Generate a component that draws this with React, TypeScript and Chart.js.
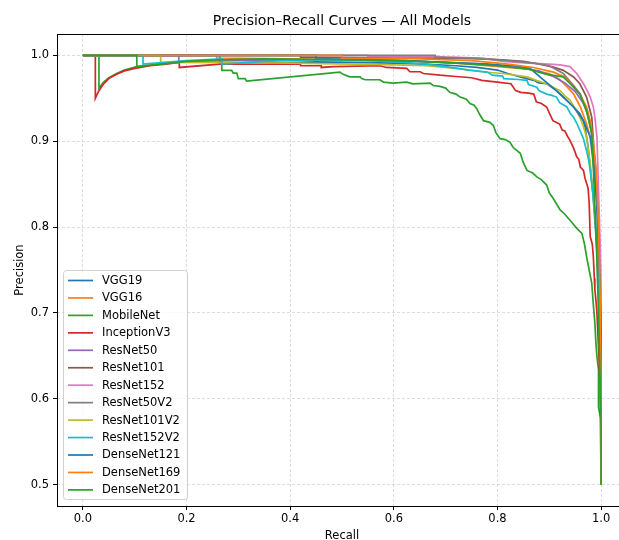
import { useEffect, useRef } from "react";
import { Chart, registerables } from "chart.js";

Chart.register(...registerables);

type Pt = [number, number]; // [recall, precision]

const modelNames = [
  "VGG19",
  "VGG16",
  "MobileNet",
  "InceptionV3",
  "ResNet50",
  "ResNet101",
  "ResNet152",
  "ResNet50V2",
  "ResNet101V2",
  "ResNet152V2",
  "DenseNet121",
  "DenseNet169",
  "DenseNet201",
];

const modelColors = [
  "#1f77b4",
  "#ff7f0e",
  "#2ca02c",
  "#d62728",
  "#9467bd",
  "#8c564b",
  "#e377c2",
  "#7f7f7f",
  "#bcbd22",
  "#17becf",
  "#1f77b4",
  "#ff7f0e",
  "#2ca02c",
];

const vgg19: Pt[] = [
  [0, 1], [0.264, 1], [0.264, 0.99], [0.3, 0.9915], [0.36, 0.9925], [0.36, 0.991],
  [0.45, 0.9925], [0.52, 0.992], [0.6, 0.991], [0.66, 0.99], [0.72, 0.988], [0.76, 0.986],
  [0.8, 0.983], [0.82, 0.979], [0.844, 0.975], [0.87, 0.971], [0.88, 0.968], [0.895, 0.967],
  [0.91, 0.961], [0.921, 0.955], [0.93, 0.95], [0.94, 0.944], [0.95, 0.938], [0.959, 0.932],
  [0.965, 0.925], [0.969, 0.917], [0.975, 0.893], [0.979, 0.87], [0.984, 0.84], [0.989, 0.8],
  [0.993, 0.76], [0.996, 0.72], [0.998, 0.68], [1.0, 0.62], [1.0, 0.5],
];

const vgg16: Pt[] = [
  [0, 1], [0.258, 1], [0.258, 0.997], [0.4, 0.996], [0.55, 0.995], [0.65, 0.993],
  [0.72, 0.991], [0.78, 0.988], [0.82, 0.986], [0.86, 0.984], [0.88, 0.981], [0.9, 0.979],
  [0.92, 0.972], [0.935, 0.963], [0.947, 0.955], [0.96, 0.94], [0.972, 0.92], [0.979, 0.905],
  [0.985, 0.889], [0.989, 0.86], [0.993, 0.82], [0.996, 0.77], [0.998, 0.7], [1.0, 0.6],
  [1.0, 0.5],
];

const mobileNet: Pt[] = [
  [0, 1], [0.031, 1], [0.031, 0.962], [0.04, 0.969], [0.05, 0.974], [0.065, 0.979],
  [0.08, 0.983], [0.104, 0.987], [0.15, 0.99], [0.2, 0.993], [0.268, 0.995], [0.268, 0.9826],
  [0.287, 0.9826], [0.29, 0.9795], [0.297, 0.9795], [0.3, 0.9729], [0.313, 0.9729], [0.316, 0.97],
  [0.496, 0.9806], [0.502, 0.978], [0.515, 0.975], [0.535, 0.975], [0.538, 0.973], [0.545, 0.9717],
  [0.573, 0.9717], [0.58, 0.969], [0.598, 0.9678], [0.625, 0.969], [0.637, 0.967], [0.67, 0.9678],
  [0.676, 0.965], [0.689, 0.964], [0.7, 0.962], [0.708, 0.957], [0.72, 0.955], [0.728, 0.9515],
  [0.74, 0.949], [0.747, 0.944], [0.755, 0.942], [0.76, 0.938], [0.765, 0.932], [0.773, 0.924],
  [0.785, 0.922], [0.792, 0.9186], [0.797, 0.91], [0.805, 0.903], [0.815, 0.902], [0.824, 0.899],
  [0.83, 0.893], [0.844, 0.886], [0.85, 0.875], [0.857, 0.866], [0.868, 0.863], [0.876, 0.8585],
  [0.885, 0.855], [0.895, 0.849], [0.9, 0.84], [0.908, 0.833], [0.915, 0.826], [0.921, 0.82],
  [0.93, 0.815], [0.94, 0.808], [0.947, 0.803], [0.953, 0.7985], [0.963, 0.7927], [0.968, 0.78],
  [0.972, 0.7655], [0.977, 0.75], [0.982, 0.7345], [0.985, 0.71], [0.988, 0.688], [0.99, 0.665],
  [0.992, 0.649], [0.995, 0.634], [0.995, 0.59], [1.0, 0.575], [1.0, 0.5],
];

const inceptionV3: Pt[] = [
  [0, 1], [0.024, 1], [0.024, 0.95], [0.03, 0.958], [0.04, 0.967], [0.05, 0.973],
  [0.065, 0.978], [0.08, 0.982], [0.1, 0.985], [0.13, 0.988], [0.16, 0.99], [0.186, 0.992],
  [0.186, 0.986], [0.264, 0.99], [0.39, 0.99], [0.42, 0.99], [0.42, 0.988], [0.44, 0.988],
  [0.46, 0.988], [0.46, 0.986], [0.483, 0.987], [0.573, 0.988], [0.586, 0.986], [0.625, 0.985],
  [0.631, 0.981], [0.651, 0.981], [0.657, 0.979], [0.689, 0.977], [0.72, 0.9755], [0.75, 0.974],
  [0.77, 0.971], [0.8, 0.969], [0.826, 0.967], [0.835, 0.959], [0.845, 0.957], [0.86, 0.956],
  [0.87, 0.955], [0.875, 0.946], [0.885, 0.944], [0.895, 0.94], [0.9, 0.933], [0.907, 0.924],
  [0.914, 0.922], [0.92, 0.92], [0.925, 0.913], [0.93, 0.912], [0.936, 0.905], [0.94, 0.901],
  [0.947, 0.892], [0.953, 0.882], [0.957, 0.879], [0.96, 0.87], [0.966, 0.866], [0.969, 0.857],
  [0.972, 0.851], [0.975, 0.845], [0.977, 0.828], [0.979, 0.789], [0.983, 0.78], [0.985, 0.766],
  [0.987, 0.74], [0.988, 0.727], [0.99, 0.715], [0.992, 0.7], [0.995, 0.66], [0.998, 0.62],
  [1.0, 0.5],
];

const resNet50: Pt[] = [
  [0, 1], [0.185, 1], [0.185, 0.993], [0.3, 0.994], [0.45, 0.995], [0.6, 0.994],
  [0.7, 0.992], [0.78, 0.99], [0.84, 0.986], [0.88, 0.982], [0.91, 0.975], [0.93, 0.968],
  [0.95, 0.958], [0.965, 0.945], [0.975, 0.93], [0.982, 0.91], [0.988, 0.88], [0.993, 0.84],
  [0.996, 0.78], [0.998, 0.72], [1.0, 0.65], [1.0, 0.5],
];

const resNet101: Pt[] = [
  [0, 1], [0.42, 1], [0.42, 0.998], [0.6, 0.997], [0.7, 0.997], [0.78, 0.996],
  [0.85, 0.993], [0.88, 0.99], [0.908, 0.9864], [0.927, 0.9826], [0.947, 0.975], [0.959, 0.967],
  [0.972, 0.9515], [0.982, 0.928], [0.985, 0.901], [0.988, 0.862], [0.992, 0.824], [0.995, 0.78],
  [0.998, 0.73], [1.0, 0.68], [1.0, 0.5],
];

const resNet152: Pt[] = [
  [0, 1], [0.55, 1], [0.55, 0.999], [0.68, 0.999], [0.7, 0.998], [0.77, 0.997],
  [0.81, 0.993], [0.86, 0.991], [0.9, 0.99], [0.921, 0.989], [0.94, 0.987], [0.953, 0.979],
  [0.966, 0.967], [0.975, 0.957], [0.979, 0.9515], [0.985, 0.94], [0.988, 0.928], [0.992, 0.905],
  [0.995, 0.843], [0.998, 0.785], [1.0, 0.727], [1.0, 0.5],
];

const resNet50V2: Pt[] = [
  [0, 1], [0.68, 1], [0.68, 0.998], [0.75, 0.997], [0.82, 0.994], [0.87, 0.991],
  [0.9, 0.988], [0.927, 0.979], [0.947, 0.965], [0.96, 0.955], [0.972, 0.935], [0.98, 0.915],
  [0.985, 0.895], [0.99, 0.86], [0.994, 0.81], [0.997, 0.75], [1.0, 0.66], [1.0, 0.5],
];

const resNet101V2: Pt[] = [
  [0, 1], [0.15, 1], [0.15, 0.992], [0.3, 0.9915], [0.4, 0.991], [0.52, 0.99],
  [0.6, 0.989], [0.663, 0.988], [0.72, 0.985], [0.77, 0.981], [0.81, 0.979], [0.857, 0.975],
  [0.875, 0.971], [0.895, 0.967], [0.91, 0.962], [0.921, 0.959], [0.93, 0.953], [0.94, 0.948],
  [0.95, 0.938], [0.959, 0.928], [0.966, 0.917], [0.972, 0.905], [0.979, 0.874], [0.985, 0.835],
  [0.99, 0.8], [0.994, 0.76], [0.997, 0.7], [1.0, 0.62], [1.0, 0.5],
];

const resNet152V2: Pt[] = [
  [0, 1], [0.116, 1], [0.116, 0.99], [0.2, 0.994], [0.268, 0.996], [0.268, 0.99],
  [0.35, 0.993], [0.45, 0.995], [0.55, 0.994], [0.62, 0.992], [0.66, 0.99], [0.7, 0.987],
  [0.745, 0.983], [0.78, 0.9806], [0.79, 0.977], [0.81, 0.976], [0.812, 0.973], [0.84, 0.972],
  [0.857, 0.971], [0.86, 0.966], [0.876, 0.963], [0.88, 0.959], [0.895, 0.955], [0.905, 0.9535],
  [0.914, 0.9515], [0.92, 0.945], [0.934, 0.94], [0.94, 0.933], [0.947, 0.928], [0.953, 0.921],
  [0.959, 0.913], [0.966, 0.903], [0.972, 0.889], [0.976, 0.878], [0.979, 0.866], [0.985, 0.835],
  [0.989, 0.81], [0.993, 0.77], [0.996, 0.72], [0.998, 0.66], [1.0, 0.58], [1.0, 0.5],
];

const denseNet121: Pt[] = [
  [0, 1], [0.45, 1], [0.45, 0.996], [0.55, 0.995], [0.62, 0.994], [0.7, 0.992],
  [0.78, 0.99], [0.83, 0.988], [0.863, 0.985], [0.882, 0.975], [0.908, 0.962], [0.921, 0.955],
  [0.947, 0.94], [0.959, 0.93], [0.966, 0.924], [0.979, 0.905], [0.985, 0.874], [0.992, 0.8275],
  [0.995, 0.78], [0.997, 0.74], [1.0, 0.68], [1.0, 0.5],
];

const denseNet169: Pt[] = [
  [0, 1], [0.5, 1], [0.5, 0.997], [0.65, 0.996], [0.75, 0.994], [0.82, 0.99],
  [0.87, 0.986], [0.908, 0.9806], [0.93, 0.975], [0.947, 0.963], [0.959, 0.955], [0.972, 0.94],
  [0.979, 0.924], [0.985, 0.9], [0.99, 0.869], [0.992, 0.847], [0.995, 0.8], [0.998, 0.72],
  [1.0, 0.6], [1.0, 0.5],
];

const denseNet201: Pt[] = [
  [0, 1], [0.104, 1], [0.104, 0.987], [0.15, 0.99], [0.2, 0.993], [0.264, 0.995],
  [0.35, 0.996], [0.5, 0.995], [0.62, 0.994], [0.72, 0.991], [0.8, 0.988], [0.86, 0.984],
  [0.895, 0.978], [0.927, 0.975], [0.947, 0.963], [0.959, 0.955], [0.972, 0.936], [0.982, 0.909],
  [0.985, 0.87], [0.988, 0.824], [0.991, 0.78], [0.994, 0.72], [0.997, 0.65], [1.0, 0.575],
  [1.0, 0.5],
];

const modelCurves: Pt[][] = [
  vgg19, vgg16, mobileNet, inceptionV3, resNet50, resNet101, resNet152,
  resNet50V2, resNet101V2, resNet152V2, denseNet121, denseNet169, denseNet201,
];

const recallTicks = [0, 0.2, 0.4, 0.6, 0.8, 1.0];
const precisionTicks = [0.5, 0.6, 0.7, 0.8, 0.9, 1.0];

const chartTitle = "Precision–Recall Curves — All Models";
const xAxisTitle = "Recall";
const yAxisTitle = "Precision";

const FONT = '"DejaVu Sans", Verdana, sans-serif';
const CANVAS_W = 640;
const CANVAS_H = 540;

// Frame, title, axis titles and the in-plot legend box.
const decorations = {
  id: "decorations",
  afterDatasetsDraw(chart: any) {
    const { ctx, chartArea: a } = chart;
    ctx.save();

    ctx.strokeStyle = "#000";
    ctx.lineWidth = 1;
    ctx.strokeRect(Math.round(a.left) + 0.5, Math.round(a.top) + 0.5,
      Math.round(a.right - a.left), Math.round(a.bottom - a.top));

    const cx = (a.left + a.right) / 2;
    ctx.fillStyle = "#000";
    ctx.textAlign = "center";
    ctx.textBaseline = "middle";
    ctx.font = `14px ${FONT}`;
    ctx.fillText(chartTitle, cx, 21);

    ctx.font = `11.5px ${FONT}`;
    ctx.fillText(xAxisTitle, cx, 536);
    ctx.save();
    ctx.translate(20, (a.top + a.bottom) / 2);
    ctx.rotate(-Math.PI / 2);
    ctx.fillText(yAxisTitle, 0, 0);
    ctx.restore();

    // legend
    const rowH = 17.45;
    const boxW = 124;
    const boxH = 229;
    const boxX = a.left + 6;
    const boxY = a.bottom - 7 - boxH;
    ctx.beginPath();
    ctx.roundRect(boxX + 0.5, boxY + 0.5, boxW, boxH, 3);
    ctx.fillStyle = "rgba(255,255,255,0.8)";
    ctx.fill();
    ctx.strokeStyle = "rgba(204,204,204,0.9)";
    ctx.lineWidth = 1;
    ctx.stroke();

    ctx.textAlign = "left";
    ctx.textBaseline = "middle";
    ctx.font = `11.5px ${FONT}`;
    modelNames.forEach((name, i) => {
      const y = boxY + 10.5 + i * rowH;
      ctx.strokeStyle = modelColors[i];
      ctx.lineWidth = 1.7;
      ctx.beginPath();
      ctx.moveTo(boxX + 5, y);
      ctx.lineTo(boxX + 30, y);
      ctx.stroke();
      ctx.fillStyle = "#000";
      ctx.fillText(name, boxX + 39, y + 0.5);
    });

    ctx.restore();
  },
};

export default function App() {
  const canvasRef = useRef<HTMLCanvasElement | null>(null);

  useEffect(() => {
    const canvas = canvasRef.current;
    if (!canvas) return;

    const datasets = modelCurves.map((curve, i) => ({
      label: modelNames[i],
      data: curve.map(([r, p]) => ({ x: r, y: p })),
      borderColor: modelColors[i],
      backgroundColor: modelColors[i],
      borderWidth: 1.7,
      showLine: true,
      pointRadius: 0,
      fill: false,
      tension: 0,
      // later models are painted above earlier ones
      order: modelCurves.length - i,
    }));

    const gridCommon = {
      color: "rgba(176,176,176,0.55)",
      lineWidth: 0.8,
      borderDash: [3, 2],
      drawTicks: true,
      tickLength: 4,
      tickColor: "#000",
      tickWidth: 1,
      tickBorderDash: [],
    };

    const chart = new Chart(canvas, {
      type: "scatter",
      data: { datasets },
      options: {
        responsive: false,
        animation: false,
        events: [],
        devicePixelRatio: 1,
        layout: { padding: { top: 34, right: CANVAS_W - 627, left: 0, bottom: 0 } },
        plugins: {
          legend: { display: false },
          title: { display: false },
          tooltip: { enabled: false },
        },
        scales: {
          x: {
            type: "linear",
            min: -0.05,
            max: 1.05,
            grid: gridCommon,
            border: { display: false, dash: [3, 2] },
            afterBuildTicks: (scale: any) => {
              scale.ticks = recallTicks.map((v) => ({ value: v }));
            },
            afterFit: (scale: any) => {
              scale.height = 34;
            },
            ticks: {
              color: "#000",
              padding: 2,
              maxRotation: 0,
              autoSkip: false,
              font: { family: FONT, size: 11.5 },
              callback: (v: any) => Number(v).toFixed(1),
            },
          },
          y: {
            type: "linear",
            min: 0.475,
            max: 1.025,
            grid: gridCommon,
            border: { display: false, dash: [3, 2] },
            afterBuildTicks: (scale: any) => {
              scale.ticks = precisionTicks.map((v) => ({ value: v }));
            },
            afterFit: (scale: any) => {
              scale.width = 57;
            },
            ticks: {
              color: "#000",
              padding: 4,
              autoSkip: false,
              font: { family: FONT, size: 11.5 },
              callback: (v: any) => Number(v).toFixed(1),
            },
          },
        },
      },
      plugins: [decorations],
    } as any);

    return () => chart.destroy();
  }, []);

  return (
    <div
      style={{
        position: "absolute",
        left: 0,
        top: 0,
        width: 619,
        height: 540,
        overflow: "hidden",
        background: "#fff",
      }}
    >
      <canvas
        ref={canvasRef}
        width={CANVAS_W}
        height={CANVAS_H}
        style={{ display: "block", width: CANVAS_W, height: CANVAS_H }}
      />
    </div>
  );
}
